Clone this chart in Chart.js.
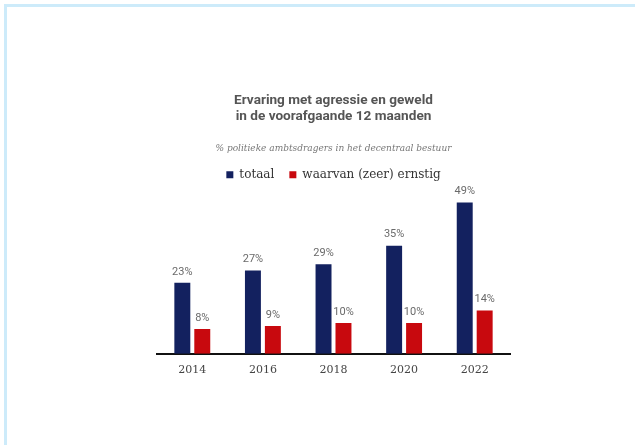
<!DOCTYPE html>
<html>
<head>
<meta charset="utf-8">
<script src="https://cdn.jsdelivr.net/npm/chart.js@4"></script>
<style>
  html, body { margin: 0; padding: 0; background: #fff; }
  #frame {
    position: absolute; left: 4px; top: 4px; width: 700px; height: 500px;
    border-top: 3px solid #cdebfa; border-left: 3px solid #cdebfa;
  }
  #wrap { position: absolute; left: 0; top: 0; width: 635px; height: 445px; }
</style>
</head>
<body>
<div id="frame"></div>
<div id="wrap"><canvas id="chart" width="635" height="445"></canvas></div>
<script>
    // Data
    var jaren    = ['2014', '2016', '2018', '2020', '2022'];
    var totaal   = [23, 27, 29, 35, 49];
    var ernstig  = [8, 9, 10, 10, 14];

    var TITEL     = ['Ervaring met agressie en geweld', 'in de voorafgaande 12 maanden'];
    var SUBTITEL  = '% politieke ambtsdragers in het decentraal bestuur';

    // Percentage labels above each bar
    var waardeLabels = {
        id: 'waardeLabels',
        afterDatasetsDraw: function (chart) {
            var ctx = chart.ctx;
            ctx.save();
            ctx.font = '11px Roboto, "DejaVu Sans", sans-serif';
            ctx.fillStyle = '#6a6a6a';
            ctx.textAlign = 'center';
            ctx.textBaseline = 'middle';
            chart.data.datasets.forEach(function (ds, i) {
                chart.getDatasetMeta(i).data.forEach(function (bar, j) {
                    ctx.fillText(ds.data[j] + '%', bar.x, bar.y - 11);
                });
            });
            ctx.restore();
        }
    };

    new Chart(document.getElementById('chart'), {
        type: 'bar',
        data: {
            labels: jaren,
            datasets: [
                { label: 'totaal', data: totaal, backgroundColor: '#13215f' },
                { label: 'waarvan (zeer) ernstig', data: ernstig, backgroundColor: '#c8090e' }
            ]
        },
        options: {
            responsive: false,
            animation: false,
            categoryPercentage: 0.565,
            barPercentage: 0.8,
            layout: { padding: { top: 93, left: 157, right: 125, bottom: 58 } },
            plugins: {
                title: {
                    display: true,
                    text: TITEL,
                    color: '#555',
                    font: { family: 'Roboto', size: 13.6, weight: 'bold', lineHeight: 1.176 },
                    padding: { top: 0, bottom: 18 }
                },
                subtitle: {
                    display: true,
                    text: SUBTITEL,
                    color: '#777',
                    font: { family: '"DejaVu Serif"', size: 9, style: 'italic', lineHeight: 1.2 },
                    padding: { top: 0, bottom: 0 }
                },
                legend: {
                    position: 'top',
                    labels: {
                        color: '#333',
                        font: { family: '"DejaVu Serif"', size: 12 },
                        boxWidth: 7,
                        boxHeight: 7,
                        padding: 15
                    }
                },
                tooltip: { enabled: false }
            },
            scales: {
                x: {
                    grid: { display: false, drawTicks: false },
                    border: { display: true, color: '#111', width: 2 },
                    ticks: {
                        color: '#444',
                        padding: 10,
                        font: { family: '"DejaVu Serif"', size: 11 }
                    }
                },
                y: {
                    display: false,
                    min: 0,
                    max: 52.8
                }
            }
        },
        plugins: [waardeLabels]
    });
</script>
</body>
</html>
